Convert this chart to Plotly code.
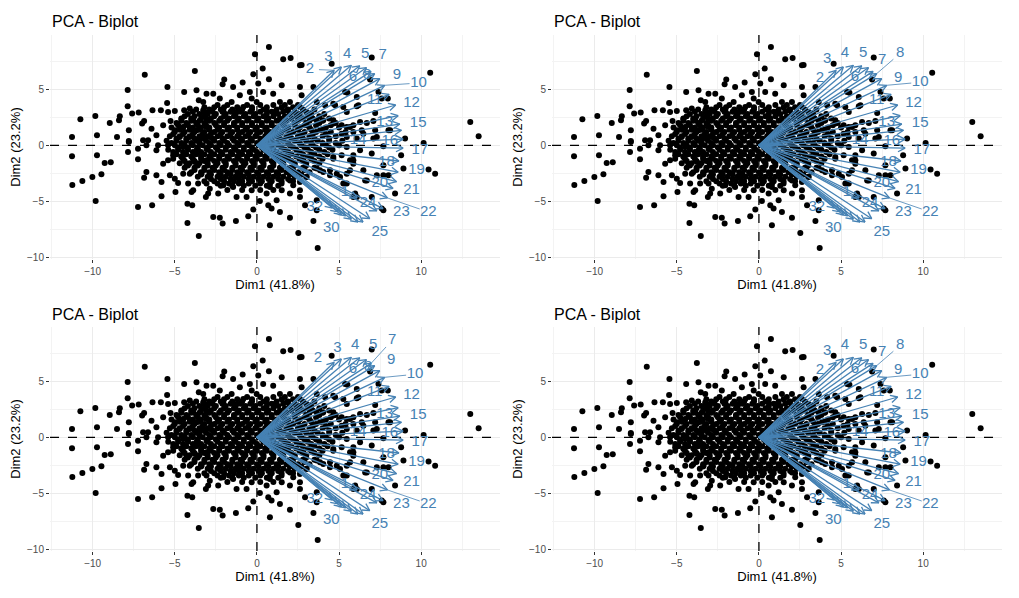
import math
import plotly.graph_objects as go

# individuals (Dim1, Dim2): the scattered ones
ind_outer = [
    (-6.83, 6.31), (-3.78, 6.63), (-7.87, 4.94), (-5.45, 5.21), (-4.43, 4.76), (-3.68, 4.91),
    (-3.54, 4.02), (-5.47, 3.78), (-7.87, 3.48), (-7.60, 2.83), (-7.20, 2.92), (-6.36, 3.13),
    (-5.85, 3.13), (-5.41, 2.97), (-5.00, 3.06), (-10.75, 2.32), (-9.84, 2.62), (-8.96, 1.99),
    (-8.40, 2.23), (-8.35, 2.59), (-6.87, 2.17), (-6.99, 1.94), (-7.80, 1.34), (-6.42, 1.49),
    (-6.12, 0.89), (-5.71, 1.79), (-5.26, 2.17), (-5.00, 1.34), (-11.26, 0.74), (-9.74, 0.89),
    (-8.52, 0.74), (-7.80, 0.38), (-6.93, 0.45), (-6.63, 0.45), (-6.02, 0.0), (-5.41, 0.0),
    (-4.43, 3.13), (-4.09, 3.28), (-3.27, 3.13), (-4.59, 2.38), (-3.88, 2.23), (-3.07, 2.38),
    (-4.49, 1.64), (-3.68, 1.34), (-3.07, 1.64), (-4.70, 0.74), (-4.09, 0.74), (-3.48, 0.45),
    (-2.87, 0.74), (-11.26, -0.98), (-9.74, -0.89), (-9.27, -1.58), (-8.90, -1.52), (-7.85, -0.60),
    (-7.80, 0.30), (-7.24, -0.30), (-7.24, -1.25), (-9.47, -2.59), (-10.02, -2.83), (-10.63, -3.19),
    (-11.24, -3.54), (-9.82, -4.97), (-6.73, -2.38), (-6.87, -2.89), (-6.12, -2.68), (-5.81, -3.27),
    (-6.73, 0.0), (-6.12, -0.45), (-5.71, -1.64), (-5.41, -1.34), (-5.30, -2.68), (-5.00, -2.98),
    (-4.80, -3.36), (-4.96, -4.17), (-5.81, -4.55), (-7.24, -5.51), (-6.38, -5.36), (-4.23, -5.21),
    (-3.94, -5.36), (-4.23, -6.94), (-3.54, -8.10), (-3.11, -4.62), (-3.98, -4.17), (-3.88, -4.02),
    (-4.19, -3.42), (-3.58, -3.42), (-4.49, -2.53), (-4.09, -2.53), (-3.37, -2.53), (-3.78, -1.49),
    (-4.29, -1.64), (-4.59, -1.04), (-3.07, -1.34), (-5.10, -0.89), (-3.68, -0.45), (-4.49, -0.15),
    (-3.07, -0.30), (-3.07, -3.42), (-0.12, 8.13), (0.73, 8.78), (1.60, 7.68), (2.05, 7.80),
    (2.72, 7.17), (-0.22, 6.34), (0.35, 6.85), (0.73, 5.89), (-1.99, 5.87), (-2.09, 5.45),
    (-0.87, 5.60), (0.08, 5.51), (0.99, 4.61), (1.51, 5.36), (2.62, 5.21), (2.72, 4.46),
    (-3.07, 4.61), (-2.66, 4.61), (-1.45, 5.21), (-1.04, 4.46), (-0.43, 4.76), (0.38, 4.76),
    (1.40, 3.87), (2.01, 3.87), (2.62, 3.42), (-0.32, 4.17), (-0.02, 3.87), (-3.27, 3.87),
    (-2.26, 4.17), (-1.54, 3.87), (-0.83, 3.42), (-2.05, 3.13), (-1.24, 2.97), (0.59, 3.13),
    (1.10, 2.97), (1.81, 3.13), (5.37, 4.76), (4.55, 7.29), (4.15, 3.57), (4.76, 3.57),
    (5.47, 2.97), (6.08, 4.31), (3.23, 2.83), (3.64, 2.23), (4.65, 2.23), (5.47, 1.64),
    (-2.66, -6.40), (-2.26, -6.46), (-2.09, -6.99), (-1.28, -6.76), (-0.53, -6.34), (-0.22, -5.74),
    (0.79, -7.14), (1.40, -5.95), (2.01, -6.46), (2.52, -7.83), (3.44, -6.76), (3.70, -9.17),
    (3.64, -4.91), (2.62, -4.61), (2.01, -4.31), (1.20, -4.91), (0.69, -5.36), (0.89, -5.65),
    (0.18, -4.97), (1.51, -4.02), (-0.63, -4.61), (-1.24, -4.61), (-2.97, -4.31), (-2.36, -4.31),
    (-2.87, -3.87), (-2.05, -3.57), (-1.45, -3.72), (-0.32, -4.02), (0.59, -4.31), (0.79, -3.72),
    (2.01, -3.13), (2.21, -3.57), (2.62, -3.27), (3.03, -2.83), (3.64, -2.08), (4.04, -2.38),
    (4.45, -2.23), (4.86, -2.53), (5.47, -3.42), (4.65, -1.19), (5.47, -0.15), (5.87, -1.34),
    (6.08, -4.61), (3.64, -5.80), (6.99, 7.83), (10.55, 6.49), (12.99, 2.08), (13.50, 0.80),
    (6.89, 5.87), (5.51, 4.70), (7.40, 4.76), (7.60, 4.17), (7.97, 4.17), (5.26, 3.42),
    (6.08, 3.48), (7.20, 2.88), (7.09, 2.17), (6.69, 1.99), (6.28, 2.08), (5.87, 1.79),
    (6.38, 1.34), (7.20, 1.34), (8.01, 1.34), (9.02, 0.60), (10.15, 0.21), (7.70, -0.09),
    (5.16, 1.79), (5.47, 0.74), (6.08, 0.60), (7.09, 0.60), (8.78, -0.89), (7.70, -1.79),
    (8.92, -2.08), (10.45, -2.17), (10.85, -2.53), (7.30, -2.68), (7.70, -2.68), (8.01, -2.68),
    (6.59, -3.13), (8.41, -4.31), (6.99, -4.61), (5.98, -4.31), (5.87, -4.61), (7.60, -5.65),
    (5.16, -0.89), (5.87, -0.89), (6.28, -0.45), (6.99, -0.74), (5.87, -1.64), (6.48, -2.23),
    (5.47, -2.53), (2.62, 7.14), (3.44, 5.21), (6.18, 3.57), (3.64, 3.87), (4.65, 3.72),
    (4.04, 2.23), (4.65, 1.94), (5.67, 1.64), (5.16, 1.04), (5.87, 1.19), (6.48, 1.04),
    (7.30, 0.74), (8.11, 1.34), (3.84, 1.34), (3.03, 1.79), (2.62, -4.02), (2.93, -5.36),
    (4.65, -1.04), (5.67, -1.34), (5.26, -3.42), (7.70, -5.80), (3.84, -2.23), (4.45, -2.68),
    (5.06, -2.83), (5.67, -2.23), (6.69, -3.13), (2.82, -1.34),
]

# the dense cloud round the origin, estimated row by row (Dim2: list of Dim1)
ind_core = {
    3.6: [-2.4, -1.8, -0.6, 0.2, 1.0, 1.7, 2.5],
    3.4: [-3.2, -2.6, -2.0, -1.2, -0.3, 0.6, 1.5, 2.2],
    3.2: [-3.7, -2.9, -2.2, -1.5, -0.9, -0.3, 0.4, 1.2, 1.9, 2.8, 3.5],
    3.0: [-3.9, -3.2, -2.7, -2.1, -1.6, -1.0, -0.4, 0.2, 0.9, 1.6, 2.3, 3.0],
    2.8: [-4.2, -3.5, -3.0, -2.5, -1.9, -1.3, -0.7, -0.1, 0.6, 1.3, 2.0, 2.6, 3.3, 4.1],
    2.6: [-4.4, -3.8, -3.2, -2.6, -2.0, -1.4, -0.8, -0.2, 0.4, 1.0, 1.7, 2.4, 3.1, 3.8],
    2.4: [-4.6, -4.0, -3.4, -2.8, -2.2, -1.7, -1.1, -0.5, 0.1, 0.7, 1.4, 2.1, 2.8, 3.4, 4.4],
    2.2: [-4.6, -4.0, -3.5, -2.9, -2.3, -1.8, -1.2, -0.6, 0.0, 0.6, 1.2, 1.8, 2.5, 3.2, 4.0],
    2.0: [-4.9, -4.3, -3.7, -3.2, -2.6, -2.0, -1.4, -0.9, -0.3, 0.3, 0.9, 1.5, 2.3, 3.0, 3.8, 4.8],
    1.8: [-4.8, -4.2, -3.6, -3.1, -2.5, -2.0, -1.4, -0.9, -0.3, 0.3, 0.9, 1.6, 2.3, 2.9, 3.6, 4.5],
    1.6: [-5.2, -4.5, -3.9, -3.4, -2.9, -2.3, -1.7, -1.2, -0.6, 0.0, 0.6, 1.2, 1.9, 2.6, 3.2, 4.2, 5.0],
    1.4: [-4.7, -4.1, -3.5, -2.9, -2.4, -1.8, -1.2, -0.7, -0.1, 0.5, 1.1, 1.8, 2.5, 3.3, 4.0],
    1.2: [-5.0, -4.4, -3.8, -3.2, -2.6, -2.1, -1.5, -0.9, -0.4, 0.2, 0.8, 1.5, 2.2, 2.9, 3.6, 4.5, 5.4],
    1.0: [-5.1, -4.5, -3.9, -3.3, -2.8, -2.2, -1.6, -1.1, -0.5, 0.0, 0.6, 1.3, 2.0, 2.7, 3.4, 4.2],
    0.8: [-5.3, -4.7, -4.1, -3.5, -3.0, -2.4, -1.8, -1.2, -0.7, -0.1, 0.5, 1.1, 1.8, 2.5, 3.2, 4.0, 4.8],
    0.6: [-4.9, -4.3, -3.8, -3.2, -2.7, -2.1, -1.5, -1.0, -0.4, 0.2, 0.8, 1.4, 2.1, 2.8, 3.5, 4.4],
    0.4: [-5.5, -4.9, -4.3, -3.7, -3.1, -2.6, -2.0, -1.4, -0.9, -0.3, 0.3, 0.9, 1.6, 2.3, 3.0, 3.7, 4.4, 5.2],
    0.2: [-5.2, -4.6, -4.0, -3.5, -2.9, -2.3, -1.8, -1.2, -0.6, 0.0, 0.6, 1.2, 1.9, 2.6, 3.3, 4.0, 4.8],
    0.0: [-5.0, -4.4, -3.9, -3.3, -2.8, -2.2, -1.7, -1.1, -0.5, 0.1, 0.7, 1.3, 2.0, 2.7, 3.4, 4.2, 5.0],
    -0.2: [-4.8, -4.2, -3.6, -3.0, -2.5, -1.9, -1.4, -0.8, -0.3, 0.3, 0.9, 1.5, 2.2, 2.9, 3.6, 4.4],
    -0.4: [-5.4, -4.8, -4.2, -3.6, -3.0, -2.4, -1.9, -1.3, -0.8, -0.2, 0.4, 1.0, 1.7, 2.4, 3.1, 3.8, 4.6],
    -0.6: [-5.1, -4.5, -3.9, -3.4, -2.8, -2.2, -1.6, -1.1, -0.5, 0.0, 0.6, 1.2, 1.9, 2.6, 3.3, 4.1],
    -0.8: [-4.9, -4.3, -3.7, -3.2, -2.6, -2.1, -1.5, -0.9, -0.4, 0.2, 0.8, 1.4, 2.1, 2.8, 3.5, 4.3],
    -1.0: [-4.6, -4.0, -3.4, -2.9, -2.3, -1.8, -1.2, -0.6, -0.1, 0.5, 1.1, 1.7, 2.4, 3.1, 3.8],
    -1.2: [-5.1, -4.5, -3.9, -3.4, -2.8, -2.3, -1.7, -1.1, -0.6, 0.0, 0.6, 1.2, 1.9, 2.6, 3.3, 4.0],
    -1.4: [-4.4, -3.8, -3.2, -2.6, -2.0, -1.4, -0.9, -0.3, 0.3, 0.9, 1.5, 2.1, 2.8, 3.5],
    -1.6: [-4.7, -4.1, -3.5, -3.0, -2.4, -1.9, -1.3, -0.7, -0.2, 0.4, 1.0, 1.6, 2.3, 3.0, 3.8],
    -1.8: [-4.2, -3.6, -3.0, -2.5, -1.9, -1.3, -0.8, -0.2, 0.4, 1.0, 1.6, 2.3, 3.0],
    -2.0: [-4.4, -3.8, -3.2, -2.7, -2.1, -1.5, -1.0, -0.4, 0.2, 0.8, 1.4, 2.0, 2.8, 3.5],
    -2.2: [-3.8, -3.2, -2.6, -2.0, -1.5, -0.9, -0.3, 0.3, 0.9, 1.5, 2.2, 2.9],
    -2.4: [-4.0, -3.4, -2.9, -2.3, -1.8, -1.2, -0.6, 0.0, 0.6, 1.2, 1.8, 2.5, 3.2],
    -2.6: [-3.4, -2.8, -2.2, -1.6, -1.0, -0.5, 0.1, 0.7, 1.3, 2.0, 2.7],
    -2.8: [-3.6, -3.0, -2.4, -1.9, -1.3, -0.8, -0.2, 0.4, 1.0, 1.6, 2.3, 3.0],
    -3.0: [-2.8, -2.2, -1.6, -1.1, -0.5, 0.1, 0.7, 1.3, 1.9],
    -3.2: [-3.2, -2.6, -2.0, -1.4, -0.9, -0.3, 0.3, 0.9, 1.5, 2.2],
    -3.4: [-2.4, -1.7, -1.1, -0.5, 0.2, 0.8, 1.5],
    -3.6: [-2.2, -1.5, -0.8, -0.1, 0.6, 1.3],
    -4.0: [-1.8, -0.9, 0.2, 1.0],
}

# variables: name and arrow end (Dim1, Dim2)
var_names = [2, 3, 4, 5, 6, 7, 8, 9, 10, 11, 12, 13, 14, 15, 16, 17,
             18, 19, 20, 21, 22, 23, 24, 1, 25, 26, 27, 28, 29, 30, 31, 32]
var_x = [4.70, 5.14, 5.75, 6.26, 6.67, 6.95, 7.17, 7.48, 7.78, 8.05, 8.45, 8.60, 8.70, 8.80, 8.90, 8.90,
         8.65, 8.60, 8.50, 8.29, 7.95, 7.68, 7.30, 6.10, 6.87, 6.46, 6.16, 5.75, 5.40, 5.15, 4.94, 4.60]
var_y = [6.70, 7.00, 7.14, 7.10, 6.94, 6.60, 6.40, 5.95, 5.36, 4.55, 3.60, 2.65, 1.90, 1.34, 0.55, -0.25,
         -1.40, -2.40, -3.25, -3.85, -4.70, -5.65, -5.85, -4.70, -6.55, -6.85, -6.85, -6.60, -6.30, -6.20, -5.95, -5.60]

# where the repelled labels sit (top-left panel); hidden labels are left out
label_pos = {
    1: (5.35, -4.17), 2: (3.23, 6.79), 3: (4.35, 7.90), 4: (5.49, 8.13), 5: (6.59, 8.13),
    6: (5.85, 6.10), 7: (7.66, 8.04), 8: (6.71, 6.25), 9: (8.52, 6.25), 10: (9.84, 5.56),
    11: (7.17, 4.02), 12: (9.41, 3.72), 13: (7.78, 2.08), 14: (6.16, 0.45), 15: (9.82, 1.93),
    16: (8.09, 0.36), 17: (9.92, -0.45), 18: (7.89, -1.49), 19: (9.72, -2.23), 20: (7.48, -3.42),
    21: (9.41, -4.02), 22: (10.43, -5.95), 23: (8.80, -5.95), 24: (6.77, -5.21), 25: (7.48, -7.74),
    30: (4.53, -7.38), 32: (3.52, -5.51),
}
right_moves = {2: (3.72, 5.98), 3: (4.15, 7.68), 4: (5.24, 8.21), 5: (6.34, 8.21),
               7: (7.50, 7.59), 8: (8.60, 8.21), 9: (8.48, 5.98), 10: (9.82, 5.63)}
bottom_left_moves = {2: (3.72, 7.05), 3: (4.90, 7.97), 4: (5.98, 8.21), 5: (7.07, 8.21),
                     7: (8.23, 8.66), 8: (6.77, 6.25), 9: (8.17, 6.88), 10: (9.63, 5.63)}
label_moves = [{}, right_moves, bottom_left_moves, right_moves]
label_links = [[2, 10, 22], [8, 10, 22], [7, 10, 22], [8, 10, 22]]

X_RANGE = [-12.6, 14.8]
Y_RANGE = [-10.15, 9.85]
W, H = 1019, 598
OFF = 8  # the page puts the figure 8px in from the top-left corner
PANEL_X = [(50, 500), (552, 1002), (50, 500), (552, 1002)]
PANEL_Y = [(35, 259), (35, 259), (327, 551), (327, 551)]
BLUE = "#4682B4"
FONT = "Liberation Sans, Arial, sans-serif"

PX_X = (PANEL_X[0][1] - PANEL_X[0][0]) / (X_RANGE[1] - X_RANGE[0])
PX_Y = (PANEL_Y[0][1] - PANEL_Y[0][0]) / (Y_RANGE[1] - Y_RANGE[0])


def arrow_paths(xs, ys, head=8.0, ang=math.radians(28)):
    px, py = [], []
    for x, y in zip(xs, ys):
        px += [0, x, None]
        py += [0, y, None]
        ux, uy = x * PX_X, y * PX_Y
        n = math.hypot(ux, uy)
        ux, uy = ux / n, uy / n
        for s in (1, -1):
            c, si = math.cos(ang), math.sin(s * ang)
            rx = ux * c - uy * si
            ry = ux * si + uy * c
            px += [x, x - head * rx / PX_X, None]
            py += [y, y - head * ry / PX_Y, None]
    return px, py


def link_paths(labels, links):
    px, py = [], []
    for name in links:
        lx, ly = labels[name]
        i = var_names.index(name)
        tx, ty = var_x[i], var_y[i]
        dx, dy = (tx - lx) * PX_X, (ty - ly) * PX_Y
        n = math.hypot(dx, dy)
        gap = 9
        px += [lx + gap * dx / n / PX_X, tx, None]
        py += [ly + gap * dy / n / PX_Y, ty, None]
    return px, py


ind_x = [p[0] for p in ind_outer]
ind_y = [p[1] for p in ind_outer]
for row_y, row_xs in ind_core.items():
    ind_x += row_xs
    ind_y += [row_y] * len(row_xs)

fig = go.Figure()
ax_x, ax_y = arrow_paths(var_x, var_y)

for k in range(4):
    sfx = "" if k == 0 else str(k + 1)
    xa, ya = "x" + sfx, "y" + sfx
    labels = dict(label_pos)
    labels.update(label_moves[k])
    names = list(labels.keys())

    # dashed zero lines under the points
    fig.add_trace(go.Scatter(
        x=[X_RANGE[0], X_RANGE[1], None, 0, 0], y=[0, 0, None, Y_RANGE[0], Y_RANGE[1]],
        mode="lines", xaxis=xa, yaxis=ya, line=dict(color="black", width=1.3, dash="dash"),
        showlegend=False, hoverinfo="skip",
    ))
    fig.add_trace(go.Scatter(
        x=ind_x, y=ind_y, mode="markers", xaxis=xa, yaxis=ya,
        marker=dict(color="black", size=6), showlegend=False, hoverinfo="skip",
    ))
    fig.add_trace(go.Scatter(
        x=[labels[n][0] for n in names], y=[labels[n][1] for n in names],
        text=[str(n) for n in names], mode="text", xaxis=xa, yaxis=ya,
        textfont=dict(family=FONT, size=15, color=BLUE), textposition="middle center",
        showlegend=False, hoverinfo="skip",
    ))
    lk_x, lk_y = link_paths(labels, label_links[k])
    fig.add_trace(go.Scatter(
        x=lk_x, y=lk_y, mode="lines", xaxis=xa, yaxis=ya,
        line=dict(color=BLUE, width=0.8), showlegend=False, hoverinfo="skip",
    ))
    fig.add_trace(go.Scatter(
        x=ax_x, y=ax_y, mode="lines", xaxis=xa, yaxis=ya,
        line=dict(color=BLUE, width=1.3), showlegend=False, hoverinfo="skip",
    ))

    x0, x1 = [v - OFF for v in PANEL_X[k]]
    y0, y1 = [v - OFF for v in PANEL_Y[k]]
    axis_common = dict(
        showgrid=True, gridcolor="#EBEBEB", gridwidth=1, zeroline=False,
        showline=False, ticks="outside", ticklen=3, tickcolor="#333333",
        tickfont=dict(family=FONT, size=10, color="#4D4D4D"),
        minor=dict(dtick=2.5, showgrid=True, gridcolor="#F3F3F3", gridwidth=0.6),
        fixedrange=True, automargin=False,
    )
    fig.update_layout(**{
        "xaxis" + sfx: dict(
            axis_common, domain=[x0 / W, x1 / W], anchor=ya, range=X_RANGE,
            tick0=0, dtick=5,
            title=dict(text="Dim1 (41.8%)", standoff=2,
                       font=dict(family=FONT, size=13, color="black")),
        ),
        "yaxis" + sfx: dict(
            axis_common, domain=[1 - y1 / H, 1 - y0 / H], anchor=xa, range=Y_RANGE,
            tick0=0, dtick=5,
            title=dict(text="Dim2 (23.2%)", standoff=3,
                       font=dict(family=FONT, size=13, color="black")),
        ),
    })
    fig.add_annotation(text="PCA - Biplot", xref="paper", yref="paper",
                       x=x0 / W, y=1 - (y0 - 13) / H, xanchor="left", yanchor="middle",
                       showarrow=False, font=dict(family=FONT, size=16, color="black"))

fig.update_layout(
    width=W, height=H, margin=dict(l=0, r=0, t=0, b=0),
    plot_bgcolor="white", paper_bgcolor="white",
    font=dict(family=FONT),
)

fig.write_html("out.html")
